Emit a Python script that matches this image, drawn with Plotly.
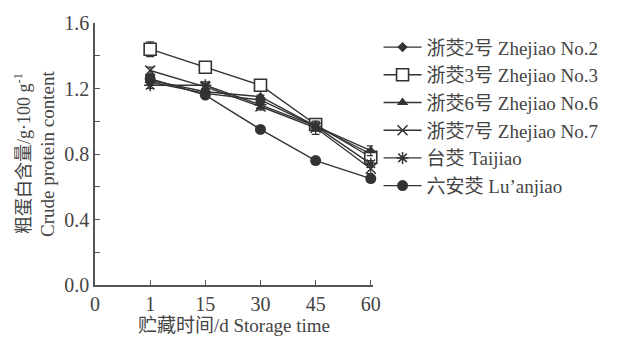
import plotly.graph_objects as go

categories = ['0', '1', '15', '30', '45', '60']
days = ['1', '15', '30', '45', '60']

zj2 = [1.24, 1.17, 1.13, 0.97, 0.80]
zj3 = [1.44, 1.33, 1.22, 0.98, 0.78]
zj6 = [1.25, 1.18, 1.15, 0.97, 0.82]
zj7 = [1.31, 1.21, 1.09, 0.96, 0.71]
tj = [1.22, 1.22, 1.10, 0.97, 0.74]
la = [1.26, 1.16, 0.95, 0.76, 0.65]

zj2_err = [0.02, 0.01, 0.01, 0.02, 0.03]
zj3_err = [0.045, 0.015, 0.02, 0.02, 0.04]
zj6_err = [0.02, 0.01, 0.01, 0.02, 0.03]
zj7_err = [0.02, 0.02, 0.02, 0.04, 0.03]
tj_err = [0.02, 0.02, 0.02, 0.03, 0.02]
la_err = [0.02, 0.01, 0.01, 0.01, 0.02]

names_zh = ['浙茭2号', '浙茭3号', '浙茭6号', '浙茭7号', '台茭', '六安茭']
names_en = ['Zhejiao No.2', 'Zhejiao No.3', 'Zhejiao No.6', 'Zhejiao No.7', 'Taijiao', 'Lu’anjiao']

C = '#333333'
SERIF = 'Liberation Serif'
FONT = 'Liberation Serif, Noto Sans CJK SC, serif'


def mixed(zh, en, sep=' '):
    return f'{zh}{sep}<span style="font-family:{SERIF}">{en}</span>'


names = [mixed(z, e) for z, e in zip(names_zh, names_en)]

series = [
    (names[0], zj2, zj2_err, dict(symbol='diamond', size=8, color=C)),
    (names[1], zj3, zj3_err, dict(symbol='square', size=12, color='white', line=dict(color=C, width=1.6))),
    (names[2], zj6, zj6_err, dict(symbol='triangle-up', size=10, color=C)),
    (names[3], zj7, zj7_err, dict(symbol='x-thin', size=10, color=C, line=dict(color=C, width=1.5))),
    (names[4], tj, tj_err, dict(symbol='asterisk', size=10, color=C, line=dict(color=C, width=1.5))),
    (names[5], la, la_err, dict(symbol='circle', size=11, color=C)),
]

fig = go.Figure()
for nm, vals, err, mk in series:
    fig.add_trace(go.Scatter(
        x=days, y=vals, name=nm, mode='lines+markers',
        line=dict(color=C, width=1.4), marker=mk,
        error_y=dict(type='data', array=err, color=C, thickness=1.2, width=4),
        cliponaxis=False,
    ))

fig.update_layout(
    width=623, height=342,
    margin=dict(l=95, r=250, t=13, b=52),
    paper_bgcolor='white', plot_bgcolor='white',
    font=dict(family=FONT, size=20, color='#444444'),
    showlegend=True,
    legend=dict(x=1.02, xanchor='left', y=0.98, yanchor='top',
                font=dict(size=19, color='#444444', family=FONT),
                itemwidth=38, tracegroupgap=0, bgcolor='rgba(0,0,0,0)'),
    xaxis=dict(type='category', categoryarray=categories, categoryorder='array',
               range=[0, 5.04], showline=True, linecolor='#555555', linewidth=1.5,
               ticks='inside', ticklen=5, tickcolor='#555555', tickwidth=1.2,
               showgrid=False, zeroline=False,
               title=dict(text=mixed('贮藏时间', '/d Storage time', sep=''), standoff=2,
                          font=dict(size=19))),
    yaxis=dict(range=[0, 1.6], showline=True, linecolor='#555555', linewidth=1.5,
               tickvals=[0, 0.4, 0.8, 1.2, 1.6], ticktext=['0.0', '0.4', '0.8', '1.2', '1.6'],
               ticks='inside', ticklen=5, tickcolor='#555555', tickwidth=1.2,
               minor=dict(tickvals=[0.2, 0.6, 1.0, 1.4], ticks='inside', ticklen=5,
                          tickcolor='#555555', tickwidth=1.2),
               showgrid=False, zeroline=False),
    annotations=[
        dict(text='粗蛋白含量<span style="font-family:Liberation Serif">/g·100 g<sup>-1</sup></span>',
             textangle=-90, xref='paper', yref='paper',
             x=(22 - 95) / 278, y=0.5, xanchor='center', yanchor='middle', showarrow=False,
             font=dict(size=18, color='#444444')),
        dict(text='Crude protein content', textangle=-90, xref='paper', yref='paper',
             x=(47 - 95) / 278, y=0.5, xanchor='center', yanchor='middle', showarrow=False,
             font=dict(size=19)),
    ],
)

fig.write_html('out.html')
